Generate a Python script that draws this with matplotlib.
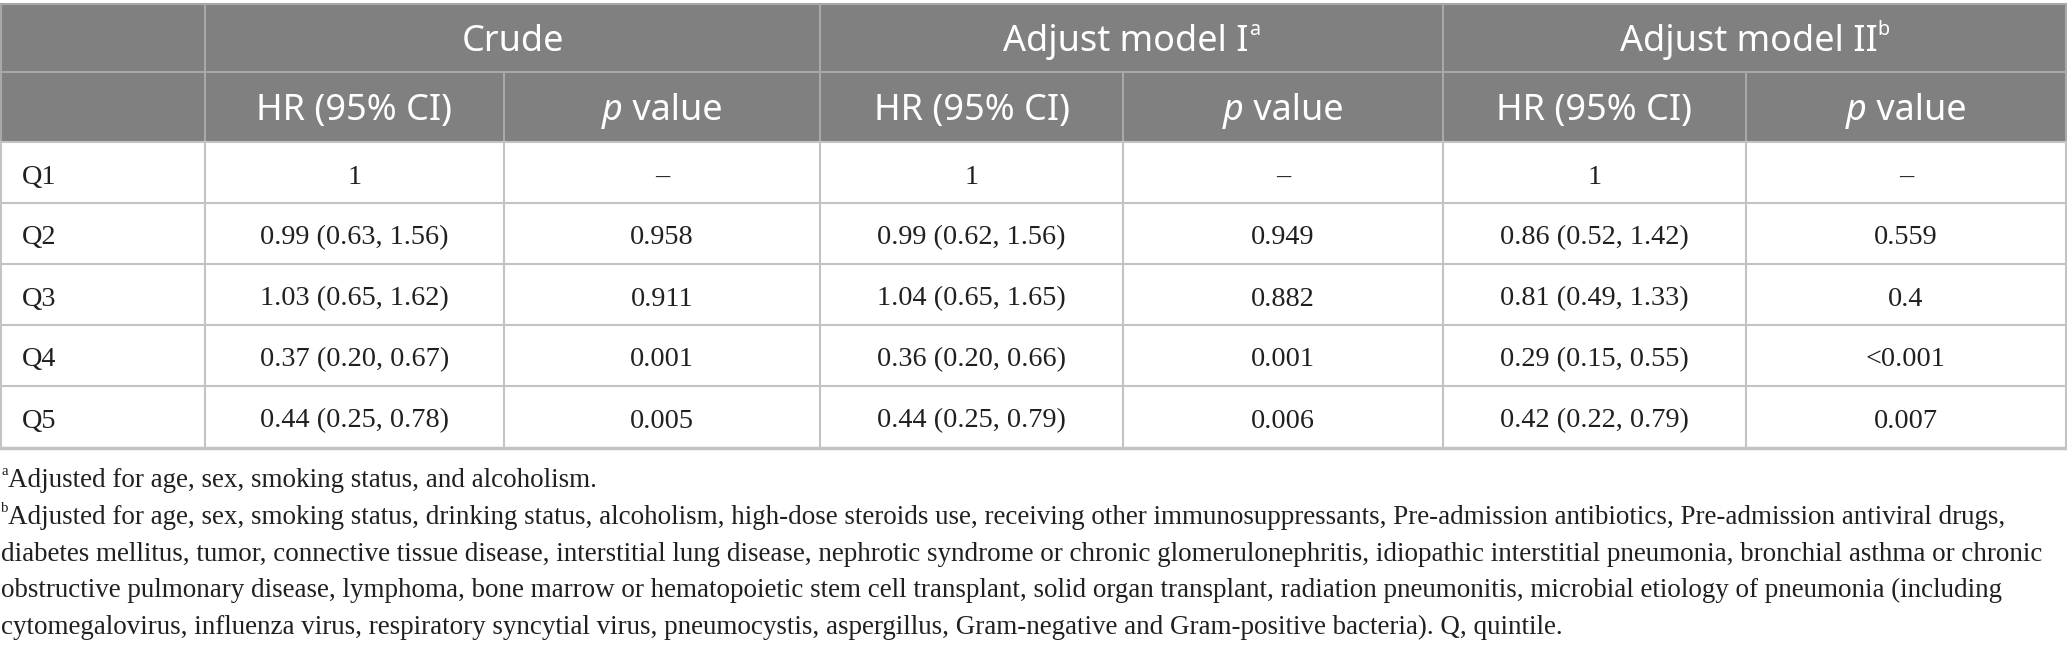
import matplotlib
matplotlib.use("Agg")
import matplotlib.pyplot as plt
from matplotlib.lines import Line2D
from matplotlib.patches import Rectangle

# ---------------- data ----------------
quintiles = ["Q1", "Q2", "Q3", "Q4", "Q5"]
crude_hr = ["1", "0.99 (0.63, 1.56)", "1.03 (0.65, 1.62)", "0.37 (0.20, 0.67)", "0.44 (0.25, 0.78)"]
crude_p = ["\u2013", "0.958", "0.911", "0.001", "0.005"]
adj1_hr = ["1", "0.99 (0.62, 1.56)", "1.04 (0.65, 1.65)", "0.36 (0.20, 0.66)", "0.44 (0.25, 0.79)"]
adj1_p = ["\u2013", "0.949", "0.882", "0.001", "0.006"]
adj2_hr = ["1", "0.86 (0.52, 1.42)", "0.81 (0.49, 1.33)", "0.29 (0.15, 0.55)", "0.42 (0.22, 0.79)"]
adj2_p = ["\u2013", "0.559", "0.4", "<0.001", "0.007"]

group_titles = ["Crude", "Adjust model I", "Adjust model II"]
group_sups = ["", "a", "b"]
sub_headers = ["HR (95% CI)", "p value"]

footnote_a = "Adjusted for age, sex, smoking status, and alcoholism."
footnote_b = [
    "Adjusted for age, sex, smoking status, drinking status, alcoholism, high-dose steroids use, receiving other immunosuppressants, Pre-admission antibiotics, Pre-admission antiviral drugs,",
    "diabetes mellitus, tumor, connective tissue disease, interstitial lung disease, nephrotic syndrome or chronic glomerulonephritis, idiopathic interstitial pneumonia, bronchial asthma or chronic",
    "obstructive pulmonary disease, lymphoma, bone marrow or hematopoietic stem cell transplant, solid organ transplant, radiation pneumonitis, microbial etiology of pneumonia (including",
    "cytomegalovirus, influenza virus, respiratory syncytial virus, pneumocystis, aspergillus, Gram-negative and Gram-positive bacteria). Q, quintile.",
]

# ---------------- layout ----------------
W, H = 2067, 650
col_x = [1, 205, 504, 820, 1123, 1443, 1746, 2066]
row_y = [4, 72, 142, 203, 264, 325, 386, 448]
foot_base = [487, 524, 561, 597, 634]

HEAD_BG = "#808080"
HEAD_LINE = "#a8a8a8"
BODY_LINE = "#c3c3c3"
TXT = "#231f20"
SERIF = ["Liberation Serif", "DejaVu Serif"]
SANS = ["Noto Sans", "DejaVu Sans"]

fig = plt.figure(figsize=(W / 100, H / 100), dpi=100)
ax = fig.add_axes([0, 0, 1, 1])
ax.set_xlim(0, W)
ax.set_ylim(H, 0)
ax.axis("off")
renderer = fig.canvas.get_renderer()


def width_of(s, **kw):
    t = ax.text(0, 0, s, **kw)
    w = t.get_window_extent(renderer).width
    t.remove()
    return w


def fit_size(s, target, family, **kw):
    w = width_of(s, fontsize=20, family=family, **kw)
    return 20 * target / w


head_fs = fit_size("HR (95% CI)", 196, SANS)
body_fs = fit_size("0.37 (0.20, 0.67)", 188, SERIF)
foot_fs = fit_size(footnote_b[1], 2045, SERIF)


def draw_runs(xc, yb, runs, ha="center"):
    """runs: list of (text, kwargs, dy)"""
    widths = [width_of(t, **kw) for t, kw, dy in runs]
    total = sum(widths)
    x = xc - total / 2 if ha == "center" else xc
    for (t, kw, dy), w in zip(runs, widths):
        ax.text(x, yb - dy, t, ha="left", va="baseline", **kw)
        x += w


# header background
ax.add_patch(Rectangle((col_x[0], row_y[0]), col_x[-1] - col_x[0], row_y[2] - row_y[0],
                       facecolor=HEAD_BG, edgecolor="none", zorder=0))

# header lines
for y in row_y[:2]:
    ax.add_line(Line2D([col_x[0], col_x[-1]], [y, y], color=HEAD_LINE, lw=1.5, zorder=2))
for i, x in enumerate(col_x):
    if i in (0, 1, 3, 5, 7):
        ax.add_line(Line2D([x, x], [row_y[0], row_y[2]], color=HEAD_LINE, lw=1.5, zorder=2))
    else:
        ax.add_line(Line2D([x, x], [row_y[1], row_y[2]], color=HEAD_LINE, lw=1.5, zorder=2))

# body lines
for j, y in enumerate(row_y[2:]):
    lw = 2.5 if j == len(row_y[2:]) - 1 else 1.5
    ax.add_line(Line2D([col_x[0], col_x[-1]], [y, y], color=BODY_LINE, lw=lw, zorder=2))
for x in col_x:
    ax.add_line(Line2D([x, x], [row_y[2], row_y[-1]], color=BODY_LINE, lw=1.5, zorder=2))

# header texts
hk = dict(fontsize=head_fs, family=SANS, color="white")
hk_it = dict(fontsize=head_fs, family=SANS, color="white", style="italic")
hk_sup = dict(fontsize=head_fs * 0.55, family=SANS, color="white")
for g, (title, sup) in enumerate(zip(group_titles, group_sups)):
    xc = (col_x[1 + 2 * g] + col_x[3 + 2 * g]) / 2
    runs = [(title, hk, 0)]
    if sup:
        runs.append((sup, hk_sup, head_fs * 0.62))
    draw_runs(xc, 51, runs)
    for k, sh in enumerate(sub_headers):
        xc2 = (col_x[1 + 2 * g + k] + col_x[2 + 2 * g + k]) / 2
        if sh.startswith("p "):
            draw_runs(xc2, 120, [("p", hk_it, 0), (" value", hk, 0)])
        else:
            draw_runs(xc2, 120, [(sh, hk, 0)])

# body texts
bk = dict(fontsize=body_fs, family=SERIF, color=TXT)
columns = [crude_hr, crude_p, adj1_hr, adj1_p, adj2_hr, adj2_p]
for r, q in enumerate(quintiles):
    yb = row_y[2 + r] + 41.5
    ax.text(col_x[0] + 21, yb, q, ha="left", va="baseline", **bk)
    for c, col in enumerate(columns):
        xc = (col_x[1 + c] + col_x[2 + c]) / 2
        ax.text(xc, yb, col[r], ha="center", va="baseline", **bk)

# footnotes
fk = dict(fontsize=foot_fs, family=SERIF, color=TXT)
fk_sup = dict(fontsize=foot_fs * 0.55, family=SERIF, color=TXT)
draw_runs(1, foot_base[0], [("a", fk_sup, foot_fs * 0.62), (footnote_a, fk, 0)], ha="left")
draw_runs(1, foot_base[1], [("b", fk_sup, foot_fs * 0.62), (footnote_b[0], fk, 0)], ha="left")
for i, line in enumerate(footnote_b[1:]):
    ax.text(1, foot_base[2 + i], line, ha="left", va="baseline", **fk)

fig.savefig("out.png", dpi=100, facecolor="white")
